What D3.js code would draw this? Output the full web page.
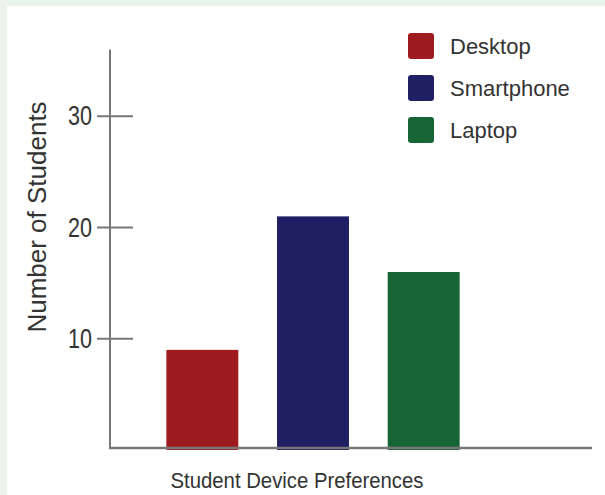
<!DOCTYPE html>
<html>
<head>
<meta charset="utf-8">
<script src="https://cdn.jsdelivr.net/npm/d3@7"></script>
<style>
  html, body { margin: 0; padding: 0; background: #eaf4ec; }
  #chart { position: absolute; left: 7px; top: 6px; }
  text { font-family: "Liberation Sans", Arial, sans-serif; fill: #333; }
</style>
</head>
<body>
<div id="chart"></div>
<script>
// data
const categories = ['Desktop', 'Smartphone', 'Laptop'];
const counts = [9, 21, 16];
const colors = ['#9e1b1f', '#201f63', '#176535'];
const yTicks = [10, 20, 30];

const W = 598, H = 489;
const svg = d3.select('#chart')
  .append('svg')
  .attr('width', W)
  .attr('height', H)
  .style('background', '#fff');

// offsets because the white panel starts at (7,6)
const ox = 7, oy = 6;

const y = d3.scaleLinear()
  .domain([0, 36])
  .range([450 - oy, 49.5 - oy]);

const x = d3.scaleBand()
  .domain(categories)
  .range([111 - ox, 515 - ox])
  .paddingInner(0.35)
  .paddingOuter(0.5);

// bars
svg.selectAll('rect.bar')
  .data(categories)
  .join('rect')
  .attr('class', 'bar')
  .attr('x', d => x(d))
  .attr('width', x.bandwidth())
  .attr('y', (d, i) => y(counts[i]))
  .attr('height', (d, i) => y(0) - y(counts[i]))
  .attr('fill', (d, i) => colors[i]);

// y axis
const axisX = 110 - ox;
const yAxis = svg.append('g')
  .attr('transform', `translate(${axisX},0)`)
  .call(d3.axisLeft(y).tickValues(yTicks).tickSize(0).tickPadding(18));
yAxis.select('.domain').remove();
// labels in the picture are tall and narrow
yAxis.selectAll('text')
  .style('font-size', '27px')
  .attr('fill', '#333')
  .attr('textLength', 24)
  .attr('lengthAdjust', 'spacingAndGlyphs');

svg.append('line')
  .attr('x1', axisX).attr('x2', axisX)
  .attr('y1', y(36)).attr('y2', y(0) - 2)
  .attr('stroke', '#777').attr('stroke-width', 2);

svg.selectAll('line.tick-mark')
  .data(yTicks)
  .join('line')
  .attr('class', 'tick-mark')
  .attr('x1', axisX - 13).attr('x2', axisX + 23)
  .attr('y1', d => y(d)).attr('y2', d => y(d))
  .attr('stroke', '#777').attr('stroke-width', 2);

// x axis line
svg.append('line')
  .attr('x1', axisX - 1).attr('x2', 592 - ox)
  .attr('y1', y(0) - 2).attr('y2', y(0) - 2)
  .attr('stroke', '#777').attr('stroke-width', 2.5);

// axis titles
svg.append('text')
  .attr('x', 297 - ox)
  .attr('y', 488 - oy)
  .attr('text-anchor', 'middle')
  .style('font-size', '22px')
  .attr('textLength', 253)
  .attr('lengthAdjust', 'spacingAndGlyphs')
  .text('Student Device Preferences');

svg.append('text')
  .attr('transform', `translate(${46 - ox},${217 - oy}) rotate(-90)`)
  .attr('text-anchor', 'middle')
  .style('font-size', '26px')
  .text('Number of Students');

// legend
const legend = svg.append('g')
  .attr('transform', `translate(${408 - ox},${33 - oy})`);

const item = legend.selectAll('g')
  .data(categories)
  .join('g')
  .attr('transform', (d, i) => `translate(0,${i * 42})`);

item.append('rect')
  .attr('width', 26).attr('height', 26)
  .attr('rx', 3)
  .attr('fill', (d, i) => colors[i]);

item.append('text')
  .attr('x', 42)
  .attr('y', 21)
  .style('font-size', '22px')
  .text(d => d);
</script>
</body>
</html>
